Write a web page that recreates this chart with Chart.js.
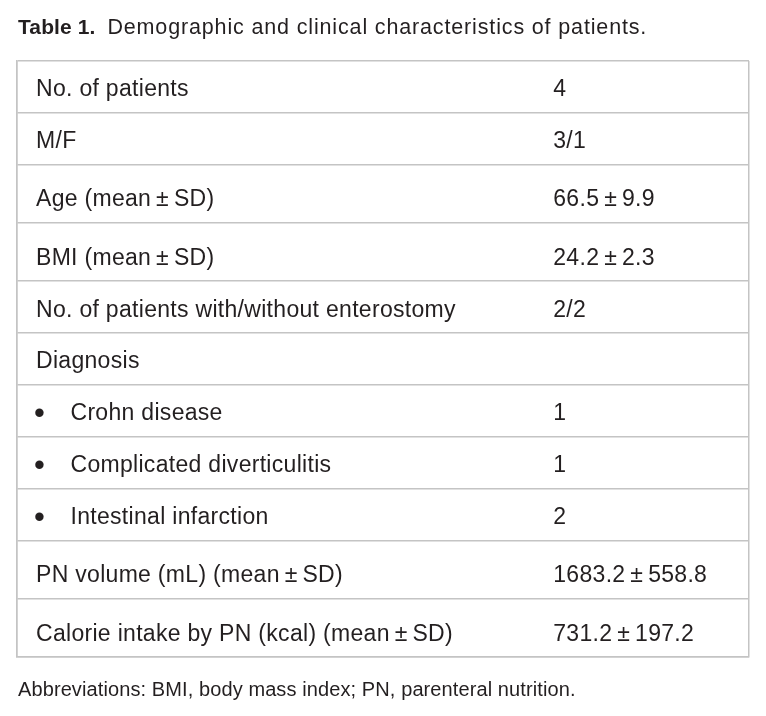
<!DOCTYPE html>
<html>
<head>
<meta charset="utf-8">
<script src="https://cdn.jsdelivr.net/npm/chart.js@4.4.1/dist/chart.umd.min.js"></script>
<style>
  html, body { margin: 0; padding: 0; background: #ffffff; }
  #wrap { position: relative; width: 766px; height: 716px; overflow: hidden; }
  #chartBox { position: absolute; left: 0; top: 0; width: 766px; height: 716px; }
  .txt { position: absolute; font-family: 'Liberation Sans', Arial, Helvetica, sans-serif; color: #231f20; white-space: nowrap; line-height: 24px; }
  #title { left: 18px; top: 15px; font-size: 21.5px; }
  #title b { font-weight: bold; font-size: 21px; letter-spacing: 0.1px; }
  #title span { letter-spacing: 0.85px; }
  #foot { left: 18px; top: 677px; font-size: 20px; letter-spacing: 0.1px; }
</style>
</head>
<body>
<div id="wrap">
  <div id="chartBox"><canvas id="c" width="766" height="716"></canvas></div>
  <div id="title" class="txt"><b>Table 1.</b>&nbsp;&nbsp;<span>Demographic and clinical characteristics of patients.</span></div>
  <div id="foot" class="txt">Abbreviations: BMI, body mass index; PN, parenteral nutrition.</div>
</div>
<script>
// ---- data ----
const rowLabels = [
  "No. of patients",
  "M/F",
  "Age (mean\u2009\u00b1\u2009SD)",
  "BMI (mean\u2009\u00b1\u2009SD)",
  "No. of patients with/without enterostomy",
  "Diagnosis",
  "Crohn disease",
  "Complicated diverticulitis",
  "Intestinal infarction",
  "PN volume (mL) (mean\u2009\u00b1\u2009SD)",
  "Calorie intake by PN (kcal) (mean\u2009\u00b1\u2009SD)"
];
const rowValues = [
  "4",
  "3/1",
  "66.5\u2009\u00b1\u20099.9",
  "24.2\u2009\u00b1\u20092.3",
  "2/2",
  "",
  "1",
  "1",
  "2",
  "1683.2\u2009\u00b1\u2009558.8",
  "731.2\u2009\u00b1\u2009197.2"
];
const bulletRows = [false, false, false, false, false, false, true, true, true, false, false];

// ---- layout derived from the text (rows with ± are taller) ----
const rowWeights = rowLabels.map(l => l.indexOf("\u00b1") >= 0 ? 1.123 : 1);
const rowEdges = [0];
rowWeights.forEach(w => rowEdges.push(rowEdges[rowEdges.length - 1] + w));
const totalRows = rowEdges[rowEdges.length - 1];

const FONT = "'Liberation Sans', Arial, Helvetica, sans-serif";
const TEXT_COLOR = "#231f20";
const LINE_COLOR = "#c4c4c4";

const tableTextPlugin = {
  id: 'tableText',
  afterDraw(chart) {
    const ctx = chart.ctx;
    const xs = chart.scales.x, ys = chart.scales.y;
    const left = xs.getPixelForValue(0);
    const valueX = xs.getPixelForValue(0.7326);
    ctx.save();
    ctx.fillStyle = TEXT_COLOR;
    ctx.textBaseline = 'alphabetic';
    rowLabels.forEach((label, i) => {
      const bottom = ys.getPixelForValue(rowEdges[i + 1]);
      const base = bottom - 16.5;
      if ('letterSpacing' in ctx) ctx.letterSpacing = '0.3px';
      ctx.font = "23px " + FONT;
      ctx.textAlign = 'left';
      if (bulletRows[i]) {
        ctx.fillText(label, left + 53.5, base);
        ctx.save();
        if ('letterSpacing' in ctx) ctx.letterSpacing = '0px';
        ctx.font = "31px " + FONT;
        ctx.textAlign = 'center';
        ctx.fillText("\u2022", left + 22.5, base + 3);
        ctx.restore();
      } else {
        ctx.fillText(label, left + 19, base);
      }
      if (rowValues[i]) {
        ctx.textAlign = 'left';
        ctx.fillText(rowValues[i], valueX, base);
      }
    });
    ctx.restore();
  }
};

new Chart(document.getElementById('c'), {
  type: 'scatter',
  data: { datasets: [] },
  options: {
    responsive: false,
    animation: false,
    layout: { padding: { left: 17, right: 17, top: 61, bottom: 59 } },
    plugins: { legend: { display: false }, tooltip: { enabled: false }, title: { display: false } },
    scales: {
      x: {
        type: 'linear', min: 0, max: 1, position: 'bottom',
        afterBuildTicks: s => { s.ticks = [{ value: 0 }, { value: 1 }]; },
        ticks: { display: false },
        grid: { color: LINE_COLOR, lineWidth: 1.5, drawTicks: false },
        border: { display: true, color: LINE_COLOR, width: 1.5 }
      },
      y: {
        type: 'linear', min: 0, max: totalRows, reverse: true, position: 'left',
        afterBuildTicks: s => { s.ticks = rowEdges.map(v => ({ value: v })); },
        ticks: { display: false },
        grid: { color: LINE_COLOR, lineWidth: 1.5, drawTicks: false },
        border: { display: true, color: LINE_COLOR, width: 1.5 }
      }
    }
  },
  plugins: [tableTextPlugin]
});
</script>
</body>
</html>
